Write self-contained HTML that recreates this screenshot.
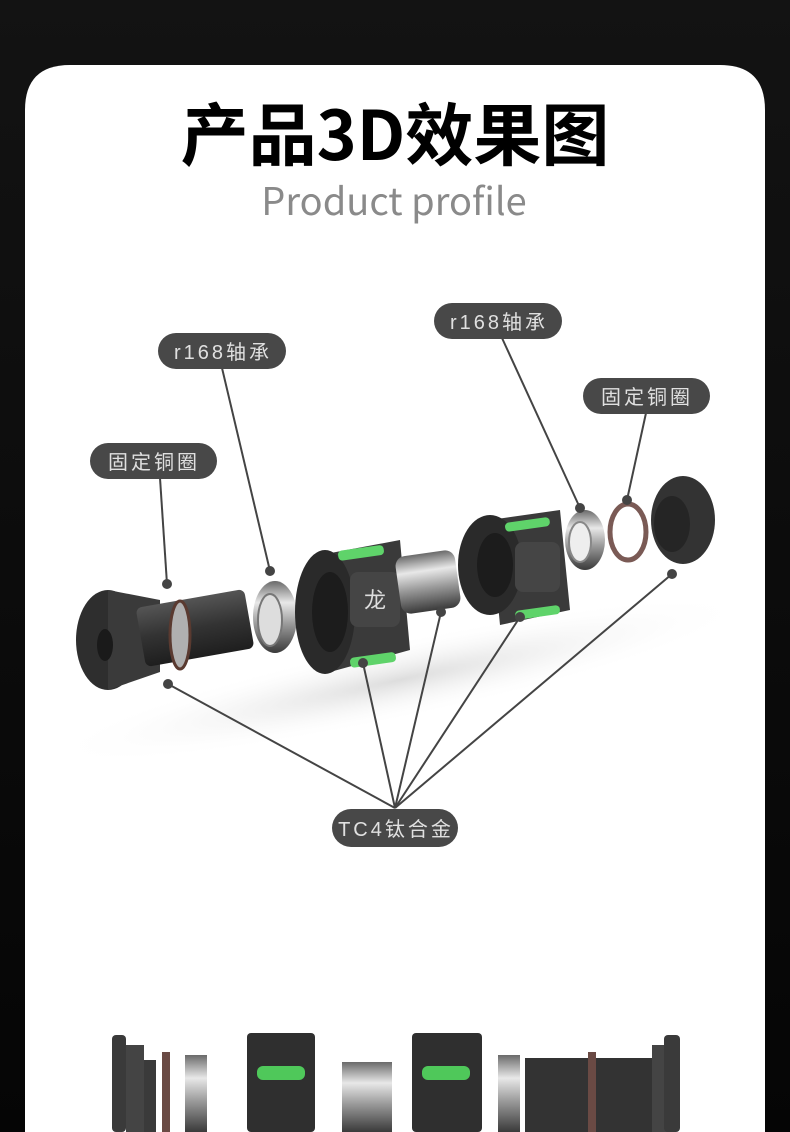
<!DOCTYPE html>
<html><head><meta charset="utf-8"><style>
html,body{margin:0;padding:0;width:790px;height:1132px;overflow:hidden;background:#0b0b0b;}
.t{font-family:"Liberation Sans","Noto Sans CJK SC",sans-serif;}
.c{font-family:"Noto Sans CJK SC","Liberation Sans",sans-serif;}
</style></head><body>
<svg width="790" height="1132" viewBox="0 0 790 1132" xmlns="http://www.w3.org/2000/svg">
<defs>
<linearGradient id="bg" x1="0" y1="0" x2="0" y2="1"><stop offset="0" stop-color="#131313"/><stop offset="1" stop-color="#050505"/></linearGradient>
<linearGradient id="met" x1="0" y1="0" x2="0" y2="1"><stop offset="0" stop-color="#6a6a6a"/><stop offset=".3" stop-color="#e8e8e8"/><stop offset=".6" stop-color="#9a9a9a"/><stop offset="1" stop-color="#3a3a3a"/></linearGradient>
<linearGradient id="dk" x1="0" y1="0" x2="0" y2="1"><stop offset="0" stop-color="#555"/><stop offset=".5" stop-color="#333"/><stop offset="1" stop-color="#1e1e1e"/></linearGradient>
<radialGradient id="sh" cx=".5" cy=".5" r=".5"><stop offset="0" stop-color="#ddd"/><stop offset="1" stop-color="#fff" stop-opacity="0"/></radialGradient>
</defs>
<rect width="790" height="1132" fill="url(#bg)"/>
<path d="M25 1132 V110 Q25 65 70 65 H720 Q765 65 765 110 V1132 Z" fill="#fff"/>
<text class="c" x="395" y="160" text-anchor="middle" font-size="68" font-weight="bold" fill="#000">产品3D效果图</text>
<text class="c" x="394" y="215" text-anchor="middle" font-size="38" fill="#8a8a8a">Product profile</text>

<ellipse cx="400" cy="680" rx="360" ry="40" fill="url(#sh)" transform="rotate(-12 400 680)"/>

<!-- left end cap -->
<ellipse cx="108" cy="640" rx="32" ry="50" fill="#2e2e2e"/>
<path d="M108 590 L160 600 L160 672 L108 690 Z" fill="#3a3a3a"/>
<rect x="140" y="598" width="110" height="60" rx="6" fill="url(#dk)" transform="rotate(-10 195 628)"/>
<ellipse cx="105" cy="645" rx="8" ry="16" fill="#1a1a1a"/>
<ellipse cx="180" cy="635" rx="10" ry="34" fill="#b0b0b0" stroke="#5a3a30" stroke-width="3"/>
<ellipse cx="275" cy="617" rx="22" ry="36" fill="url(#met)"/>
<ellipse cx="270" cy="620" rx="12" ry="26" fill="#ddd" stroke="#777" stroke-width="2"/>
<path d="M320 555 L400 540 L410 650 L330 672 Z" fill="#3a3a3a"/>
<ellipse cx="325" cy="612" rx="30" ry="62" fill="#2a2a2a"/>
<ellipse cx="330" cy="612" rx="18" ry="40" fill="#1c1c1c"/>
<rect x="338" y="548" width="46" height="10" rx="4" fill="#5fd36a" transform="rotate(-8 360 553)"/>
<rect x="350" y="655" width="46" height="10" rx="4" fill="#5fd36a" transform="rotate(-8 372 660)"/>
<rect x="350" y="572" width="50" height="55" rx="8" fill="#454545"/>
<text x="375" y="608" text-anchor="middle" font-size="22" fill="#ddd" class="c">龙</text>
<rect x="398" y="553" width="60" height="58" rx="10" fill="url(#met)" transform="rotate(-8 428 582)"/>
<path d="M490 520 L560 510 L570 610 L500 625 Z" fill="#3a3a3a"/>
<ellipse cx="490" cy="565" rx="32" ry="50" fill="#2a2a2a"/>
<ellipse cx="495" cy="565" rx="18" ry="32" fill="#1c1c1c"/>
<rect x="505" y="520" width="45" height="9" rx="4" fill="#5fd36a" transform="rotate(-8 527 525)"/>
<rect x="515" y="608" width="45" height="9" rx="4" fill="#5fd36a" transform="rotate(-8 537 612)"/>
<rect x="515" y="542" width="45" height="50" rx="8" fill="#454545"/>
<ellipse cx="585" cy="540" rx="20" ry="30" fill="url(#met)"/>
<ellipse cx="580" cy="542" rx="11" ry="20" fill="#eee" stroke="#888" stroke-width="2"/>
<ellipse cx="628" cy="532" rx="18" ry="28" fill="none" stroke="#7a5a55" stroke-width="5"/>
<ellipse cx="683" cy="520" rx="32" ry="44" fill="#333"/>
<ellipse cx="672" cy="524" rx="18" ry="28" fill="#252525"/>

<g stroke="#444" stroke-width="2" fill="none">
<line x1="160" y1="478" x2="167" y2="584"/>
<line x1="222" y1="368" x2="270" y2="571"/>
<line x1="502" y1="338" x2="580" y2="508"/>
<line x1="646" y1="413" x2="627" y2="500"/>
<line x1="395" y1="808" x2="168" y2="684"/>
<line x1="395" y1="808" x2="363" y2="663"/>
<line x1="395" y1="808" x2="441" y2="612"/>
<line x1="395" y1="808" x2="520" y2="617"/>
<line x1="395" y1="808" x2="672" y2="574"/>
</g>
<g fill="#444">
<circle cx="167" cy="584" r="5"/><circle cx="270" cy="571" r="5"/><circle cx="580" cy="508" r="5"/><circle cx="627" cy="500" r="5"/>
<circle cx="168" cy="684" r="5"/><circle cx="363" cy="663" r="5"/><circle cx="441" cy="612" r="5"/><circle cx="520" cy="617" r="5"/><circle cx="672" cy="574" r="5"/>
</g>

<g fill="#484848">
<rect x="158" y="333" width="128" height="36" rx="18"/>
<rect x="434" y="303" width="128" height="36" rx="18"/>
<rect x="90" y="443" width="127" height="36" rx="18"/>
<rect x="583" y="378" width="127" height="36" rx="18"/>
<rect x="332" y="809" width="126" height="38" rx="19"/>
</g>
<g class="t" fill="#e0e0e0" font-size="20" text-anchor="middle" letter-spacing="3">
<text x="223" y="359">r168轴承</text>
<text x="499" y="329">r168轴承</text>
<text x="154" y="469">固定铜圈</text>
<text x="647" y="404">固定铜圈</text>
<text x="396" y="836">TC4钛合金</text>
</g>

<rect x="112" y="1035" width="14" height="97" rx="4" fill="#3a3a3a"/>
<rect x="126" y="1045" width="18" height="87" fill="#444"/>
<rect x="144" y="1060" width="12" height="72" fill="#3a3a3a"/>
<rect x="162" y="1052" width="8" height="80" fill="#6a4a44"/>
<rect x="185" y="1055" width="22" height="77" fill="url(#met)"/>
<rect x="247" y="1033" width="68" height="99" rx="4" fill="#2f2f2f"/>
<rect x="257" y="1066" width="48" height="14" rx="6" fill="#4fc85a"/>
<rect x="342" y="1062" width="50" height="70" fill="url(#met)"/>
<rect x="412" y="1033" width="70" height="99" rx="4" fill="#2f2f2f"/>
<rect x="422" y="1066" width="48" height="14" rx="6" fill="#4fc85a"/>
<rect x="498" y="1055" width="22" height="77" fill="url(#met)"/>
<rect x="525" y="1058" width="130" height="74" fill="#333"/>
<rect x="588" y="1052" width="8" height="80" fill="#6a4a44"/>
<rect x="652" y="1045" width="16" height="87" fill="#444"/>
<rect x="664" y="1035" width="16" height="97" rx="4" fill="#3a3a3a"/>
</svg>
</body></html>
